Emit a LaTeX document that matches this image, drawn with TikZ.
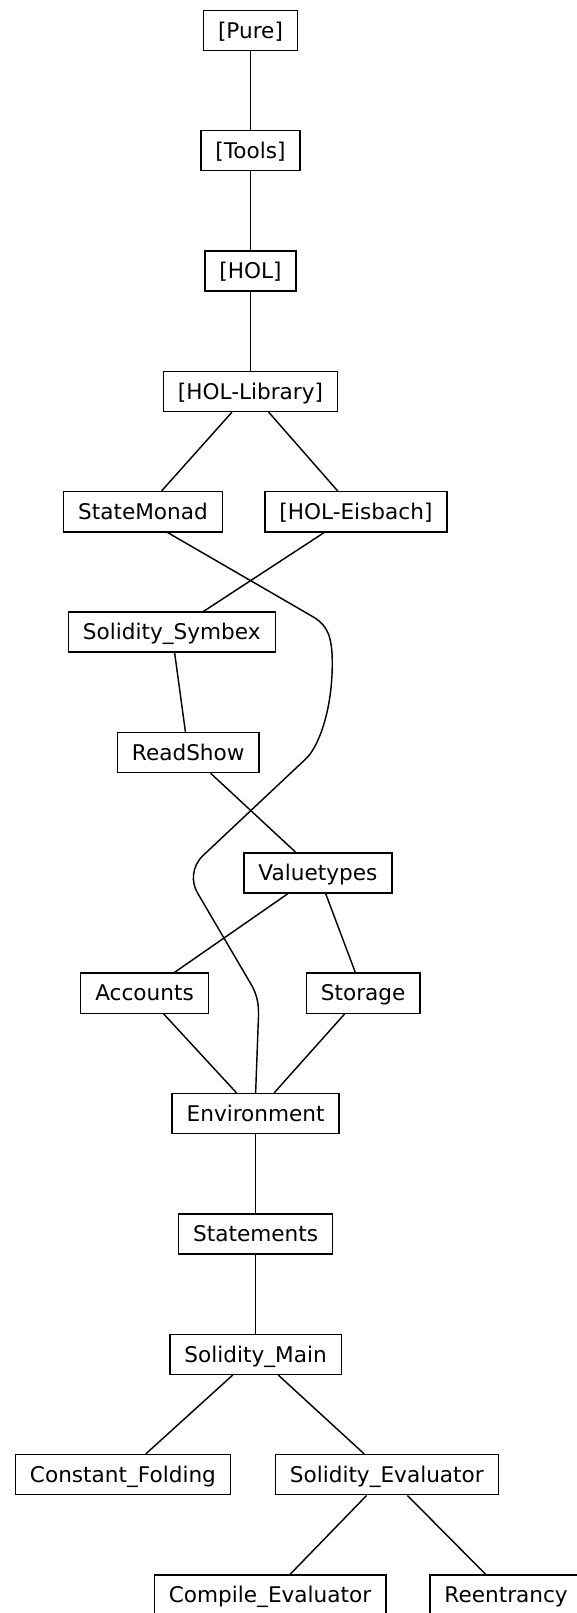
\documentclass[tikz,border=0pt]{standalone}
\usepackage{fontspec}
\setmainfont{DejaVu Sans}
\usetikzlibrary{calc}

\begin{document}
\begin{tikzpicture}[x=0.5pt,y=-0.5pt,
    thy/.style={draw,line width=0.7pt,minimum height=19.5pt,inner xsep=7.1pt,inner ysep=0pt,
      text height=8pt,text depth=0.5pt,font=\fontsize{10.5pt}{12pt}\selectfont},
    dep/.style={line width=0.7pt}]
    \useasboundingbox (0,0) rectangle (560,1568);
    % Isabelle sessions at top
    \node[thy] (Pure) at (243.5,29.5) {[Pure]};
    \node[thy] (Tools) at (243.5,146.5) {[Tools]};
    \node[thy] (HOL) at (243.5,263.5) {[HOL]};
    \node[thy] (HOLLib) at (243.5,380.5) {[HOL-Library]};
    \node[thy] (SM) at (139,497.5) {StateMonad};
    \node[thy] (Eis) at (346,497.5) {[HOL-Eisbach]};
    % Solidity theories
    \node[thy] (Symbex) at (167,614.5) {Solidity\_Symbex};
    \node[thy] (RS) at (183,731.5) {ReadShow};
    \node[thy] (VT) at (309,848.5) {Valuetypes};
    \node[thy] (Acc) at (140.5,965.5) {Accounts};
    \node[thy] (Sto) at (353,965.5) {Storage};
    \node[thy] (Env) at (248.5,1082.5) {Environment};
    \node[thy] (Stmt) at (248.5,1199.5) {Statements};
    \node[thy] (Main) at (248.5,1316.5) {Solidity\_Main};
    \node[thy] (CF) at (119.5,1433.5) {Constant\_Folding};
    \node[thy] (Eval) at (376,1433.5) {Solidity\_Evaluator};
    \node[thy] (CE) at (262.5,1550.5) {Compile\_Evaluator};
    \node[thy] (Re) at (492,1550.5) {Reentrancy};
    % dependencies
    \foreach \a/\b in {Pure/Tools,Tools/HOL,HOL/HOLLib,HOLLib/SM,HOLLib/Eis,
        Eis/Symbex,Symbex/RS,RS/VT,VT/Acc,VT/Sto,Acc/Env,Sto/Env,
        Env/Stmt,Stmt/Main,Main/CF,Main/Eval,Eval/CE,Eval/Re}
        \draw[dep] (\a) -- (\b);
    % StateMonad down to Environment
    \draw[dep] ($(SM.south)+(24,0)$) -- (305,600)
        .. controls (318,608) and (323,618) .. (323,645)
        .. controls (323,690) and (310,725) .. (298,737) -- (197,832)
        .. controls (186,843) and (186,858) .. (192,868) -- (243,955)
        .. controls (251,968) and (252,978) .. (251,995) -- (Env.north);
\end{tikzpicture}
\end{document}
